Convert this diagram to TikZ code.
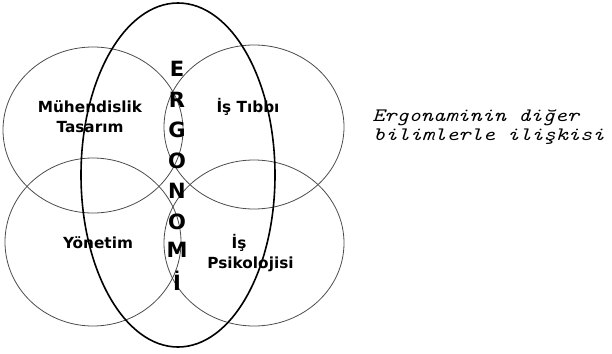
\documentclass[tikz,border=0pt]{standalone}
\usepackage{fontspec}
\setmainfont{DejaVu Sans}
\begin{document}
\begin{tikzpicture}[x=1pt,y=-1pt,
  field/.style={draw=black!70, line width=0.8pt},
  core/.style={draw=black, line width=1.6pt},
  lbl/.style={font=\fontsize{15.3}{19.5}\selectfont\bfseries, align=center, inner sep=0pt},
  letter/.style={font=\fontsize{21}{21}\selectfont\bfseries, inner sep=0pt, anchor=center},
  note/.style={font=\fontsize{19}{19}\ttfamily\itshape, inner sep=0pt, anchor=base west, xscale=1.22, transform shape}]
\useasboundingbox (0,0) rectangle (612,353);
% four fields
\draw[field] (93,130) ellipse [x radius=90, y radius=83];
\draw[field] (254,127) ellipse [x radius=90, y radius=82];
\draw[field] (93,242) ellipse [x radius=88, y radius=84];
\draw[field] (254,243) ellipse [x radius=90, y radius=83];
% ergonomics ellipse
\draw[core] (178,175) ellipse [x radius=97, y radius=172];
% letters
\node[letter] (e1) at (177,69) {E};
\node[letter] (e2) at (177,100) {R};
\node[letter] (e3) at (177,130) {G};
\node[letter] (e4) at (177,160.5) {O};
\node[letter] (e5) at (177,191) {N};
\node[letter] (e6) at (177,221.5) {O};
\node[letter] (e7) at (177,250) {M};
\node[letter, anchor=base] (e8) at (177,290) {İ};
% labels
\node[lbl, anchor=base] (muh) at (90,132) {Mühendislik\\Tasarım};
\node[lbl, anchor=base] (tip) at (248,112) {İş Tıbbı};
\node[lbl, anchor=base] (yon) at (98,248) {Yönetim};
\node[lbl, anchor=base] (psi) at (250.5,268) {İş\hspace*{23pt}\\Psikolojisi};
% note
\node[note] (n1) at (372,121) {Ergonaminin diğer};
\node[note] (n2) at (373,140.5) {bilimlerle ilişkisi};
\end{tikzpicture}
\end{document}
